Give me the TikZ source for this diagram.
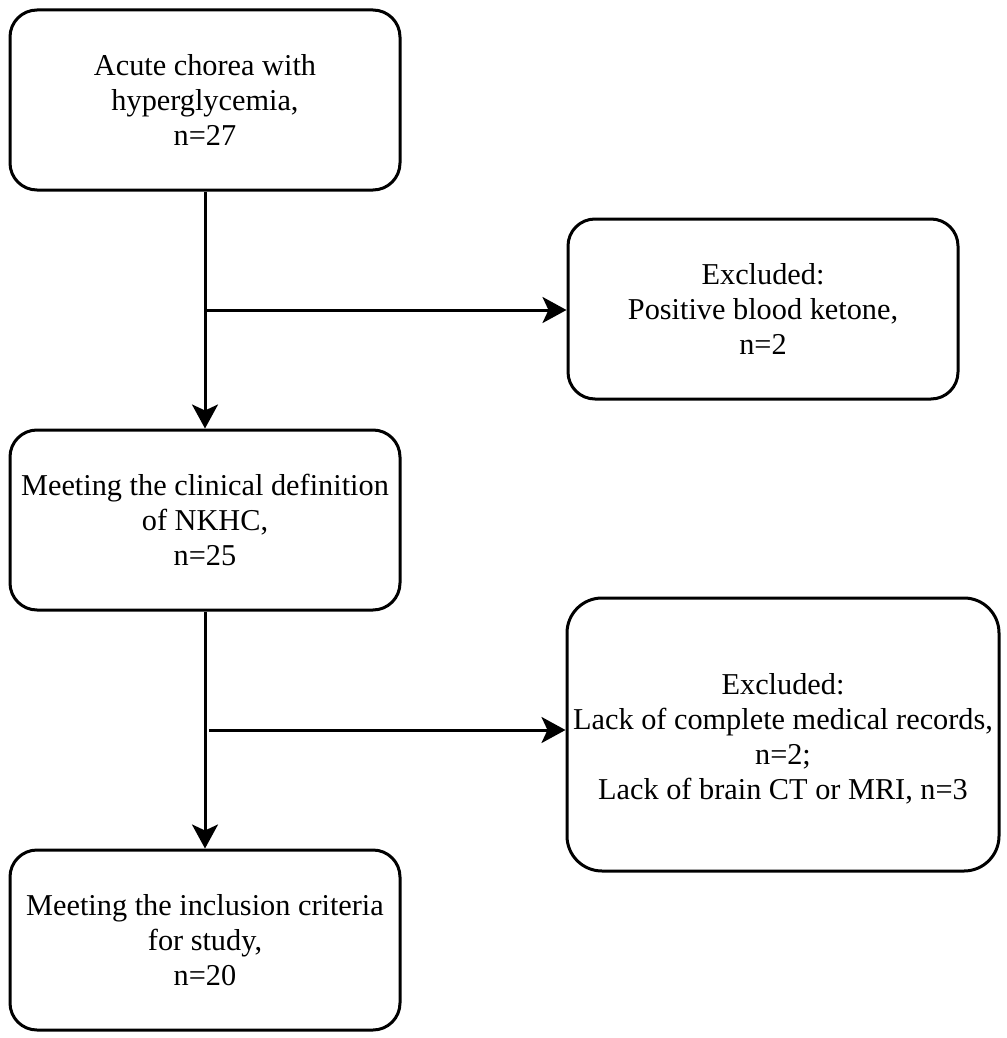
\documentclass[tikz,border=0pt]{standalone}
\usepackage{fontspec}
\setmainfont{Liberation Serif}
\usetikzlibrary{arrows.meta}
\begin{document}
\begin{tikzpicture}[x=1pt,y=-1pt,
  box/.style={draw, line width=3pt, rounded corners=27pt, align=center, inner sep=0pt,
    font=\fontsize{30.3}{35}\selectfont},
  conn/.style={line width=3pt, -{Stealth[length=24pt,width=26pt,inset=6pt]}}]
\useasboundingbox (0,0) rectangle (1006,1038);
\node[box, minimum width=390pt, minimum height=180pt] (a) at (205,100) {Acute chorea with\\hyperglycemia,\\n=27};
\node[box, minimum width=390pt, minimum height=180pt] (b) at (763,309) {Excluded:\\Positive blood ketone,\\n=2};
\node[box, minimum width=390pt, minimum height=180pt] (c) at (205,520) {Meeting the clinical definition\\of NKHC,\\n=25};
\node[box, minimum width=432pt, minimum height=273pt, rounded corners=35pt] (d) at (783,734.5) {\raisebox{-5pt}[\height][\depth]{\begin{tabular}{@{}c@{}}Excluded:\\Lack of complete medical records,\\n=2;\\Lack of brain CT or MRI, n=3\end{tabular}}};
\node[box, minimum width=390pt, minimum height=180pt] (e) at (205,940) {Meeting the inclusion criteria\\for study,\\n=20};
\coordinate (j1) at (205,310);
\coordinate (j2) at (209,730);
\draw[conn] (a.south) -- (c.north);
\draw[conn] (c.south) -- (e.north);
\draw[conn] (j1) -- (j1 -| b.west);
\draw[conn] (j2) -- (j2 -| d.west);
\end{tikzpicture}
\end{document}
